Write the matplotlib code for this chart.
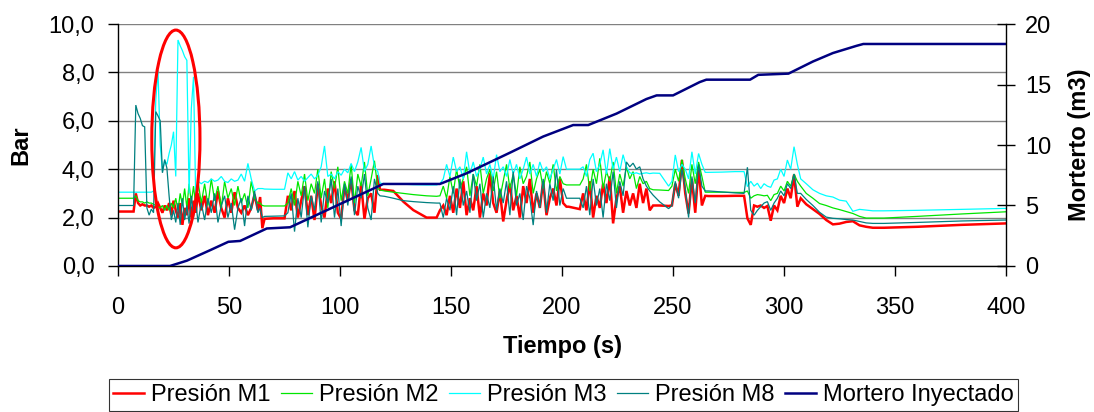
import matplotlib
matplotlib.use("Agg")
import matplotlib.pyplot as plt
from matplotlib.patches import Ellipse
from matplotlib.lines import Line2D
from matplotlib.ticker import FuncFormatter

plt.rcParams['font.family'] = ['Liberation Sans', 'DejaVu Sans']

# Sample times (s) shared by the four pressure gauges
tiempo = [
    0, 7,
    8, 9, 10, 11, 12, 13, 14, 15, 16, 17, 18, 19, 20, 21, 22, 23, 24, 25, 26, 27, 28, 29, 30, 31, 32, 33, 34, 35, 36,
    37.5, 39, 40.5, 42, 43.5, 45, 46.5, 48, 49.5, 51, 52.5, 54, 55.5, 57, 58.5, 60, 61.5, 63,
    64, 65, 66, 70, 75,
    76.5, 78, 79.5, 81, 82.5, 84, 85.5, 87, 88.5, 90, 91.5, 93, 94.5, 96, 97.5, 99, 100.5, 102, 103.5, 105, 106.5, 108, 109.5, 111, 112.5, 114, 115.5, 117,
    118, 120, 124, 128.5, 133, 139, 143.5,
    145, 146.5, 148, 149.5, 151, 152.5, 154, 155.5, 157, 158.5, 160, 161.5, 163, 164.5, 166, 167.5, 169, 170.5, 172, 173.5,
    175, 176.5, 178, 179.5, 181, 182.5, 184, 185.5, 187, 188.5, 190, 191.5, 193, 194.5, 196, 197.5, 199, 200.5, 202,
    203, 208,
    209.5, 211, 212.5, 214, 215.5, 217, 218.5, 220, 221.5, 223, 224.5, 226, 227.5, 229, 230.5, 232, 233.5, 235, 236.5, 238, 239.5, 241,
    244, 248,
    249.5, 251, 252.5, 254, 255.5, 257, 258.5, 260, 261.5, 263, 264.5,
    266, 272, 278, 282,
    283.5, 285, 286.5, 288, 289.5, 291, 292.5, 294, 295.5, 297, 298.5, 300, 301.5, 303, 304.5, 306, 307.5,
    310, 313, 316, 319, 322, 325, 328, 331, 334, 337, 340,
    345, 360, 380, 400,
]

# Pressure (bar)
presion_m1 = [
    2.25, 2.25,
    3.0, 2.6, 2.5, 2.55, 2.5, 2.5, 2.45, 2.5, 2.4, 2.45, 2.6, 2.4, 2.2, 2.5, 2.3, 2.6, 2.1, 2.7, 2.3, 2.0, 2.6, 1.7, 2.4, 2.1, 2.8, 2.0, 2.7, 2.2, 3.0,
    2.3, 2.9, 2.1, 2.7, 2.2, 3.1, 2.4, 2.0, 2.8, 2.2, 3.05, 2.4, 2.2, 2.5, 2.1, 2.4, 2.95, 2.3,
    2.85, 1.56, 1.95, 1.97, 1.97,
    2.9, 2.3, 3.1, 2.0, 2.7, 3.3, 2.1, 2.9, 1.9, 3.4, 2.5, 2.0, 3.2, 2.6, 3.5, 2.2, 1.95, 3.3, 2.7, 3.6, 2.3, 2.1, 3.4, 1.95, 2.8, 3.0, 2.2, 3.76,
    3.15, 3.15, 3.1, 2.66, 2.31, 2.0, 2.0,
    2.3, 2.5, 2.1, 2.9, 2.2, 3.2, 2.4, 3.5, 2.1, 2.8, 2.3, 3.3, 2.0, 3.0, 2.5, 3.83, 2.6, 2.2, 3.1, 1.84,
    2.7, 3.4, 2.3, 2.9, 2.0, 3.3, 2.6, 3.6, 2.2, 3.0, 2.4, 3.5, 2.1, 2.8, 3.2, 2.5, 3.6, 2.6, 2.45,
    2.45, 2.35,
    3.0, 2.3, 3.5, 2.0, 2.9, 2.4, 3.4, 2.6, 3.7, 1.76, 2.8, 3.3, 2.2, 3.1, 2.5, 3.0, 2.4, 3.4, 2.6, 3.2, 2.3, 2.5,
    2.5, 2.48,
    2.5, 3.4, 2.9, 4.38, 3.0, 2.17, 3.6, 2.2, 4.1, 2.5, 2.9,
    2.89, 2.89, 2.9, 2.9,
    1.97, 1.7, 2.5, 2.45, 2.5, 2.4, 2.48, 1.87, 2.5, 2.3, 2.9, 2.6, 3.2, 2.8, 3.77, 2.45, 2.8,
    2.55, 2.35, 2.15, 1.9, 1.72, 1.75, 1.82, 1.85, 1.68, 1.62, 1.58,
    1.58, 1.62, 1.7, 1.76,
]

presion_m2 = [
    2.8, 2.8,
    2.9, 2.7, 2.65, 2.65, 2.6, 2.65, 2.6, 2.6, 2.55, 2.5, 2.45, 2.4, 2.5, 2.3, 2.5, 2.3, 2.6, 2.4, 2.8, 2.3, 3.0, 2.5, 3.2, 2.4, 3.4, 2.6, 3.3, 2.5, 3.5,
    2.6, 3.4, 2.5, 3.6, 2.7, 3.3, 2.4, 3.5, 2.8, 3.2, 2.5, 3.3, 2.6, 3.0, 2.4, 3.5, 2.8, 2.6,
    2.6, 2.5, 2.48, 2.48, 2.48,
    2.6, 3.2, 2.5, 3.5, 2.9, 3.8, 2.7, 3.4, 3.0, 4.0, 2.8, 3.6, 2.4, 3.9, 3.2, 4.1, 2.7, 3.5, 3.0, 4.2, 2.6, 3.8, 3.3, 4.3, 2.9, 3.6, 4.35, 3.2,
    3.14, 3.1, 3.05, 3.0, 2.95, 2.9, 2.88,
    2.9, 3.3, 2.8, 3.7, 3.0, 4.0, 3.2, 3.6, 4.1, 2.9, 3.8, 3.3, 4.2, 3.0, 3.6, 4.0, 3.1, 3.9, 2.8, 3.5,
    4.2, 3.2, 3.8, 2.9, 4.1, 3.4, 3.7, 4.3, 3.0, 3.6, 4.0, 3.2, 3.9, 3.4, 4.2, 3.1, 3.7, 3.4, 3.35,
    3.35, 3.35,
    3.6, 4.2, 3.1, 4.0, 3.4, 4.45, 3.2, 3.9, 3.5, 4.3, 3.0, 3.8, 3.3, 4.1, 3.6, 3.9, 3.2, 3.7, 3.4, 3.5, 3.2, 3.15,
    3.14, 3.12,
    3.3, 4.0, 3.5, 4.4, 3.6, 3.0, 4.2, 3.4, 4.3, 3.7, 3.05,
    3.05, 3.05, 3.04, 3.04,
    3.1, 2.8, 2.9, 2.95, 2.93, 2.9, 2.92, 2.7, 2.95, 3.0, 3.3, 3.1, 3.5, 3.3, 3.8, 3.5, 3.3,
    3.0, 2.8, 2.58, 2.5, 2.4, 2.33, 2.25, 2.17, 2.05, 1.98, 1.98,
    1.98, 2.05, 2.15, 2.24,
]

presion_m3 = [
    3.05, 3.05,
    3.05, 3.05, 3.05, 3.05, 3.05, 3.05, 3.05, 3.05, 3.1, 6.86, 8.1, 5.0, 3.9, 4.35, 4.2, 4.65, 5.0, 5.55, 3.7, 9.34, 9.1, 8.9, 8.65, 8.5, 3.0, 6.5, 7.82, 2.75, 3.5,
    3.4, 3.5, 3.45, 3.6, 3.5, 3.55, 3.7, 3.5, 3.45, 3.6, 3.5, 3.55, 3.8, 3.5, 4.24, 3.6, 3.1, 3.2,
    3.2, 3.2, 3.18, 3.17, 3.17,
    3.85, 3.6, 3.9, 3.55, 3.7, 3.5, 3.65, 3.8, 3.6, 3.75, 4.1, 4.96, 3.7, 3.8, 3.6, 3.9, 3.75, 4.0, 3.85, 4.24, 3.9, 4.3, 4.9, 3.9, 4.2, 4.96, 4.1, 3.9,
    3.42, 3.4, 3.4, 3.38, 3.36, 3.35, 3.35,
    3.4, 3.6, 4.2, 3.7, 4.5, 3.9, 4.1, 3.6, 4.72, 3.8, 4.3, 3.7, 4.0, 4.5, 3.8, 4.2, 3.6, 4.6, 3.9, 4.1,
    3.7, 4.4, 3.8, 4.2, 3.6, 4.0, 4.5, 3.8, 4.2, 3.7, 4.3, 3.9, 4.1, 3.6, 4.0, 4.4, 3.8, 4.52, 4.0,
    4.0, 4.0,
    4.1, 3.7, 4.4, 4.66, 3.9, 4.2, 4.8, 3.8, 4.85, 4.0, 4.5, 3.9, 4.6, 4.1, 3.85, 3.82, 3.85, 3.8, 3.83, 3.85, 3.82, 3.84,
    3.83, 3.3,
    3.5, 4.59, 3.9, 4.2, 4.0, 3.6, 4.72, 3.8, 4.65, 4.2, 3.87,
    3.87, 3.88, 3.9, 3.9,
    3.28, 3.5, 3.3, 3.42, 3.2, 3.4, 3.3, 3.25, 3.55, 3.6, 4.0, 3.7, 4.38, 4.0, 4.93, 4.2, 3.6,
    3.4, 3.15, 3.0, 2.9, 2.85, 2.72, 2.68, 2.26, 2.34, 2.31, 2.28,
    2.28, 2.3, 2.34, 2.38,
]

presion_m8 = [
    2.5, 2.5,
    6.65, 6.3, 6.1, 5.8, 5.75, 2.4, 2.1, 2.35, 2.2, 6.38, 6.2, 6.0, 3.85, 4.4, 4.05, 2.9, 1.9, 2.3, 1.8, 2.6, 1.7, 2.8, 1.9, 2.5, 1.75, 2.9, 2.0, 2.7, 1.8,
    2.6, 1.9, 2.8, 2.2, 3.0, 1.8, 2.5, 2.9, 2.0, 2.6, 1.5, 2.4, 2.8, 1.65, 2.9, 2.3, 3.1, 2.2,
    2.4, 2.0, 2.05, 2.06, 2.07,
    2.2, 3.0, 1.42, 2.8, 2.0, 3.3, 1.6, 2.9, 2.3, 3.5, 1.8, 3.1, 2.6, 3.6, 2.0, 3.2, 1.65, 3.4, 2.5, 3.7, 2.1, 3.3, 2.8, 3.8, 2.4, 1.9, 3.6, 3.0,
    2.9, 2.88, 2.8, 2.7, 2.66, 2.62, 2.6,
    2.6, 2.0, 2.8, 2.3, 3.3, 2.1, 3.6, 2.5, 3.1, 2.2, 3.8, 2.7, 3.4, 2.0, 3.0, 2.4, 3.7, 2.3, 3.2, 2.6,
    3.5, 2.1, 3.9, 2.5, 3.0, 1.9, 3.3, 2.8, 1.69, 3.1, 2.4, 3.6, 2.2, 3.4, 2.7, 3.97, 2.5, 3.2, 2.8,
    2.8, 2.8,
    2.4, 3.3, 2.1, 3.6, 2.5, 3.2, 2.0, 3.4, 2.7, 3.9, 2.4, 3.5, 2.9, 4.3, 4.1, 4.25, 4.0, 4.1, 3.6, 3.3, 3.1, 2.93,
    2.65, 2.37,
    2.5, 3.5, 2.8, 4.0, 3.2, 2.0, 3.7, 2.6, 4.2, 3.3, 3.1,
    3.1, 3.06, 3.02, 3.0,
    4.08, 2.3, 2.1, 2.3, 2.45, 2.6, 2.66, 2.3, 2.6, 2.8, 3.1, 2.9, 3.4, 3.2, 3.8, 3.0, 3.0,
    2.75, 2.5, 2.22, 2.02, 1.97, 1.95, 1.92, 1.9, 1.84, 1.78, 1.76,
    1.76, 1.8, 1.86, 1.9,
]

# Cumulative injected mortar (m3)
tiempo_mortero = [0, 23.4, 31, 41.4, 49.7, 55, 67, 77.5, 119.5, 145, 157, 176.6, 191.5, 205, 211.8,
                  224.6, 238, 242.6, 250, 262, 265, 284.7, 288.4, 302, 313, 322, 332.7, 335.7, 400]
mortero = [0, 0, 0.44, 1.3, 2.0, 2.07, 3.1, 3.2, 6.78, 6.78, 7.66, 9.37, 10.7, 11.65, 11.65,
           12.6, 13.8, 14.1, 14.1, 15.2, 15.4, 15.4, 15.8, 15.9, 16.9, 17.6, 18.2, 18.35, 18.35]

series_labels = ['Presión M1', 'Presión M2', 'Presión M3', 'Presión M8', 'Mortero Inyectado']
series_colors = ['#FF0000', '#00E600', '#00FFFF', '#008080', '#000080']
series_widths = [1.8, 0.9, 0.9, 0.9, 1.8]

bar_ticks = [0, 2, 4, 6, 8, 10]
m3_ticks = [0, 5, 10, 15, 20]
t_ticks = [0, 50, 100, 150, 200, 250, 300, 350, 400]

# Highlighted start-up zone (centre t, centre bar, width s, height bar)
zona = (26.05, 5.25, 21.7, 9.0)

fig = plt.figure(figsize=(10.94, 4.12), dpi=100)
ax = fig.add_axes([0.1079, 0.3544, 0.8117, 0.5873])
ax2 = ax.twinx()

for y, c, w in zip([presion_m1, presion_m2, presion_m3, presion_m8],
                   series_colors[:4], series_widths[:4]):
    ax.plot(tiempo, y, color=c, lw=w, solid_joinstyle='miter')
ax2.plot(tiempo_mortero, mortero, color=series_colors[4], lw=series_widths[4])

ax2.add_patch(Ellipse((zona[0], zona[1]), zona[2], zona[3], transform=ax.transData,
                      fill=False, edgecolor='#FF0000', lw=2.2, zorder=10))

ax.set_xlim(0, 400)
ax.set_ylim(0, 10)
ax2.set_ylim(0, 20)
ax.set_xticks(t_ticks)
ax.set_yticks(bar_ticks)
ax2.set_yticks(m3_ticks)
ax.yaxis.set_major_formatter(FuncFormatter(lambda v, p: f"{v:.1f}".replace('.', ',')))
ax.xaxis.set_major_formatter(FuncFormatter(lambda v, p: f"{v:.0f}"))
ax2.yaxis.set_major_formatter(FuncFormatter(lambda v, p: f"{v:.0f}"))

ax.set_axisbelow(True)
ax.yaxis.grid(True, color='#808080', lw=1.0)
ax.xaxis.grid(False)

for a in (ax, ax2):
    a.spines['top'].set_visible(False)
ax.spines['right'].set_visible(False)
ax2.spines['left'].set_visible(False)
ax2.spines['bottom'].set_visible(False)
for sp in (ax.spines['left'], ax.spines['bottom'], ax2.spines['right']):
    sp.set_color('black')
    sp.set_linewidth(1.0)

ax.tick_params(axis='y', direction='out', length=7, width=1, pad=10, labelsize=17)
ax.tick_params(axis='x', direction='out', length=7, width=1, pad=15, labelsize=17)
ax2.tick_params(axis='y', direction='inout', length=13, width=1, pad=7, labelsize=17)

ax.set_ylabel('Bar', fontsize=17, fontweight='bold')
ax.yaxis.set_label_coords(-0.097, 0.5)
ax2.set_ylabel('Morterto (m3)', fontsize=17, fontweight='bold')
ax2.yaxis.set_label_coords(1.07, 0.5)
ax.set_xlabel('Tiempo (s)', fontsize=17, fontweight='bold')
ax.xaxis.set_label_coords(0.5, -0.285)

handles = [Line2D([], [], color=c, lw=w) for c, w in zip(series_colors, series_widths)]
leg = fig.legend(handles, series_labels, loc='center', bbox_to_anchor=(0.515, 0.041),
                 ncol=5, fontsize=17, frameon=True, fancybox=False, shadow=False,
                 handlelength=1.3, handletextpad=0.3, columnspacing=0.45,
                 borderpad=0.2, borderaxespad=0)
leg.get_frame().set_edgecolor('black')
leg.get_frame().set_linewidth(0.8)

fig.savefig('out.png', dpi=100)
